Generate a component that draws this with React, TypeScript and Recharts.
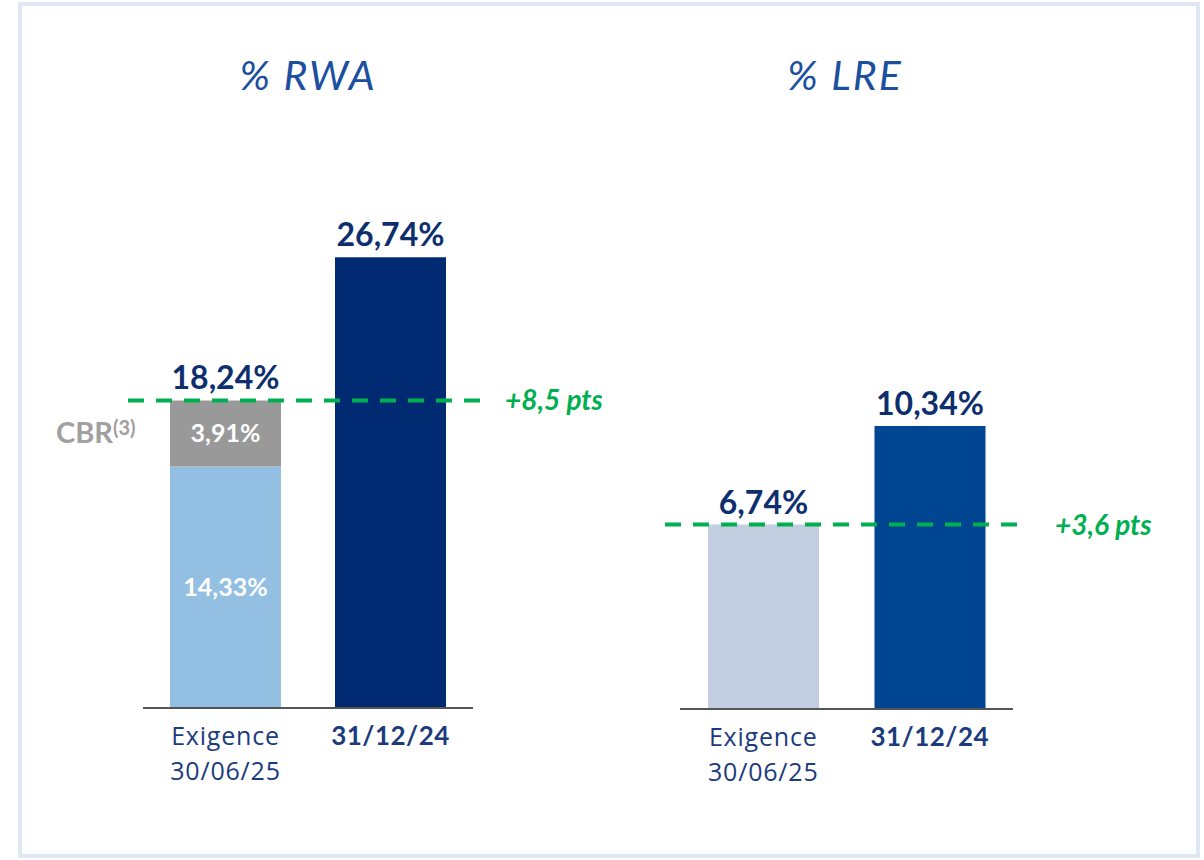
import React from 'react'
import { BarChart, Bar, XAxis, YAxis, Cell, LabelList, ReferenceLine } from 'recharts'

// categories shared by both panels
const categories = ['Exigence\n30/06/25', '31/12/24']

// % RWA panel
const rwaMinimum = [14.33, 26.74]
const rwaCbr = [3.91, 0]
const rwaTotal = [18.24, 26.74]
const rwaGapLabel = '+8,5 pts'

// % LRE panel
const lreValues = [6.74, 10.34]
const lreGapLabel = '+3,6 pts'

const FONT = 'Lato, "Noto Sans", sans-serif'
const TICK_FONT = '"Open Sans", Lato, sans-serif'
const NAVY = '#0e2f6e'
const GREEN = '#00b050'

const fmt = (v: number) => v.toFixed(2).replace('.', ',') + '%'

const rwaData = categories.map((c, i) => ({
  name: c,
  minimum: rwaMinimum[i],
  cbr: rwaCbr[i],
}))

const lreData = categories.map((c, i) => ({ name: c, value: lreValues[i] }))

// eslint-disable-next-line @typescript-eslint/no-explicit-any
const CategoryTick = (props: any) => {
  const { x, y, payload } = props
  const idx = categories.indexOf(payload.value)
  const bold = idx === categories.length - 1
  const lines = String(payload.value).split('\n')
  return (
    <text
      x={x}
      y={y}
      textAnchor="middle"
      fill="#1b3b7c"
      fontFamily={bold ? FONT : TICK_FONT}
      fontSize={bold ? 26 : 25}
      fontWeight={bold ? 700 : 400}
      letterSpacing={bold ? 0.5 : 0.8}
    >
      {lines.map((l, i) => (
        <tspan key={i} x={x} dy={i === 0 ? 37 : 35}>
          {l}
        </tspan>
      ))}
    </text>
  )
}

const topLabel = (x: number, width: number, y: number, v: number) => (
  <text
    x={x + width / 2}
    y={y - 11}
    textAnchor="middle"
    fill={NAVY}
    fontFamily={FONT}
    fontSize={32}
    fontWeight={700}
  >
    {fmt(v)}
  </text>
)

const insideLabel = (x: number, width: number, y: number, height: number, v: number) => (
  <text
    x={x + width / 2}
    y={y + height / 2 + 9}
    textAnchor="middle"
    fill="#ffffff"
    fontFamily={FONT}
    fontSize={25}
    fontWeight={700}
  >
    {fmt(v)}
  </text>
)

// dashed line drawn a little past the plot, with its gap label on the right
const gapLine = (label: string, left: number, right: number, labelGap: number) =>
  // eslint-disable-next-line @typescript-eslint/no-explicit-any
  (props: any) => {
    const { x1, x2, y1 } = props
    return (
      <g>
        <line
          x1={x1 - left}
          x2={x2 + right}
          y1={y1}
          y2={y1}
          stroke={GREEN}
          strokeWidth={4}
          strokeDasharray="16 12"
        />
        <text
          x={x2 + labelGap}
          y={y1 + 10}
          fill={GREEN}
          fontFamily={FONT}
          fontSize={28}
          fontWeight={700}
          fontStyle="italic"
        >
          {label}
        </text>
      </g>
    )
  }

const titleStyle: React.CSSProperties = {
  position: 'absolute',
  top: 50,
  width: 300,
  textAlign: 'center',
  fontFamily: FONT,
  fontStyle: 'italic',
  fontWeight: 400,
  fontSize: 41,
  letterSpacing: 2,
  color: '#1d4f9f',
}

export default function App() {
  return (
    <div style={{ position: 'fixed', left: 0, top: 0, width: 1204, height: 860, background: '#fff', overflow: 'hidden' }}>
      <div
        style={{
          position: 'absolute',
          left: 18,
          top: 2,
          width: 1182,
          height: 856,
          boxSizing: 'border-box',
          border: '4px solid #dfe7f3',
        }}
      />
      <div style={{ ...titleStyle, left: 158 }}>% RWA</div>
      <div style={{ ...titleStyle, left: 695 }}>% LRE</div>

      <div style={{ position: 'absolute', left: 0, top: 0 }}>
        <BarChart width={602} height={860} data={rwaData} margin={{ top: 101, right: 129, bottom: 122, left: 143 }}>
          <XAxis
            dataKey="name"
            axisLine={{ stroke: '#555555', strokeWidth: 2 }}
            tickLine={false}
            tickSize={0}
            tickMargin={0}
            height={30}
            interval={0}
            tick={<CategoryTick />}
          />
          <YAxis hide domain={[0, 36]} />
          <Bar dataKey="minimum" stackId="a" barSize={111} isAnimationActive={false}>
            {rwaData.map((_, i) => (
              <Cell key={i} fill={i === 0 ? '#93bfe3' : '#002b73'} />
            ))}
            <LabelList
              dataKey="minimum"
              // eslint-disable-next-line @typescript-eslint/no-explicit-any
              content={(p: any) =>
                rwaCbr[p.index] > 0
                  ? insideLabel(p.x, p.width, p.y, p.height, p.value)
                  : topLabel(p.x, p.width, p.y, rwaTotal[p.index])
              }
            />
          </Bar>
          <Bar dataKey="cbr" stackId="a" barSize={111} fill="#999999" isAnimationActive={false}>
            <LabelList
              dataKey="cbr"
              // eslint-disable-next-line @typescript-eslint/no-explicit-any
              content={(p: any) =>
                p.value > 0 ? (
                  <g>
                    {insideLabel(p.x, p.width, p.y, p.height, p.value)}
                    {topLabel(p.x, p.width, p.y, rwaTotal[p.index])}
                    <text x={56} y={p.y + p.height / 2 + 10} fill="#a0a0a0" fontFamily={FONT} fontWeight={700} fontSize={29}>
                      CBR
                      <tspan fontSize={20} dy={-8}>(3)</tspan>
                    </text>
                  </g>
                ) : null
              }
            />
          </Bar>
          <ReferenceLine y={rwaTotal[0]} shape={gapLine(rwaGapLabel, 15, 7, 32)} ifOverflow="visible" />
        </BarChart>
      </div>

      <div style={{ position: 'absolute', left: 602, top: 0 }}>
        <BarChart width={602} height={860} data={lreData} margin={{ top: 107, right: 191, bottom: 121, left: 78 }}>
          <XAxis
            dataKey="name"
            axisLine={{ stroke: '#555555', strokeWidth: 2 }}
            tickLine={false}
            tickSize={0}
            tickMargin={0}
            height={30}
            interval={0}
            tick={<CategoryTick />}
          />
          <YAxis hide domain={[0, 22]} />
          <Bar dataKey="value" barSize={111} isAnimationActive={false}>
            {lreData.map((_, i) => (
              <Cell key={i} fill={i === 0 ? '#c3cfe1' : '#004592'} />
            ))}
            <LabelList
              dataKey="value"
              // eslint-disable-next-line @typescript-eslint/no-explicit-any
              content={(p: any) => topLabel(p.x, p.width, p.y, p.value)}
            />
          </Bar>
          <ReferenceLine y={lreValues[0]} shape={gapLine(lreGapLabel, 15, 7, 42)} ifOverflow="visible" />
        </BarChart>
      </div>
    </div>
  )
}
